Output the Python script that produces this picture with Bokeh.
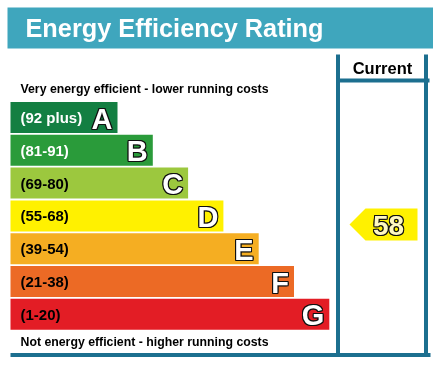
from bokeh.plotting import figure
from bokeh.models import Range1d, ColumnDataSource
from bokeh.core.properties import value
from bokeh.embed import file_html
from bokeh.resources import INLINE

# ---- data ----
bands = ["A", "B", "C", "D", "E", "F", "G"]
ranges = ["(92 plus)", "(81-91)", "(69-80)", "(55-68)", "(39-54)", "(21-38)", "(1-20)"]
lower = [92, 81, 69, 55, 39, 21, 1]
band_colors = ["#137f42", "#2a9b3a", "#9cc83e", "#fff100", "#f5ae22", "#ec6a25", "#e31d25"]
label_colors = ["white", "white", "black", "black", "black", "black", "black"]
current = 58
title = "Energy Efficiency Rating"
top_note = "Very energy efficient - lower running costs"
bottom_note = "Not energy efficient - higher running costs"
column_title = "Current"

# ---- layout ----
W, H = 433, 365
FONT = value("Liberation Sans")
BANNER = "#3fa6bd"
LINE = "#1c6f8f"
bar_left = 10
top0 = 101.5
step = 32.8
bar_h = 31
w0 = 107
wstep = 35.3

p = figure(width=W, height=H, x_range=Range1d(0, W), y_range=Range1d(H, 0),
           x_axis_type=None, y_axis_type=None, toolbar_location=None,
           output_backend="svg", min_border=0, outline_line_color=None,
           background_fill_color="white", border_fill_color="white")
p.grid.visible = False
p.styles = {"position": "fixed", "left": "0px", "top": "0px"}

# banner
p.quad(left=7, right=W, top=7, bottom=48, fill_color=BANNER, line_color=None)
p.text(x=25, y=27.5, text=[title], text_font=FONT, text_font_style="bold",
       text_font_size="25.3px", text_color="white", text_baseline="middle")

# bars
n = len(bands)
tops = [top0 + step * i for i in range(n)]
bots = [t + bar_h for t in tops]
rights = [bar_left + w0 + wstep * i for i in range(n)]
mids = [t + bar_h / 2 for t in tops]
src = ColumnDataSource(dict(band=bands, rng=ranges, color=band_colors, lc=label_colors,
                            top=tops, bottom=bots, right=rights, mid=mids,
                            lx=[bar_left + 10] * n, bx=[r - 5 for r in rights]))
p.quad(left=bar_left, right="right", top="top", bottom="bottom", fill_color="color",
       line_color=None, source=src)
p.text(x="lx", y="mid", text="rng", text_color="lc", text_font=FONT,
       text_font_style="bold", text_font_size="15px", text_baseline="middle", source=src)

offs = [(-1, -1), (-1, 0), (-1, 1), (0, -1), (0, 1), (1, -1), (1, 0), (1, 1)]
for dx, dy in offs:
    p.text(x="bx", y="mid", text="band", text_color="#111111", text_font=FONT,
           text_font_style="bold", text_font_size="29px", text_baseline="middle",
           text_align="right", x_offset=dx, y_offset=dy + 1, source=src)
p.text(x="bx", y="mid", text="band", text_color="white", text_font=FONT,
       text_font_style="bold", text_font_size="29px", text_baseline="middle",
       text_align="right", y_offset=1, source=src)

# notes
p.text(x=20, y=88, text=[top_note], text_font=FONT, text_font_style="bold",
       text_font_size="12.3px", text_color="black", text_baseline="middle")
p.text(x=20, y=341, text=[bottom_note], text_font=FONT, text_font_style="bold",
       text_font_size="12.3px", text_color="black", text_baseline="middle")

# column frame
p.quad(left=335.5, right=339.5, top=54, bottom=356, fill_color=LINE, line_color=None)
p.quad(left=423.5, right=427.5, top=54, bottom=356, fill_color=LINE, line_color=None)
p.quad(left=335.5, right=429, top=78, bottom=82, fill_color=LINE, line_color=None)
p.quad(left=10, right=430, top=352.5, bottom=356.5, fill_color=LINE, line_color=None)
p.text(x=382, y=67, text=[column_title], text_font=FONT, text_font_style="bold",
       text_font_size="16.5px", text_color="black", text_baseline="middle", text_align="center")

# current arrow
idx = next(i for i in range(n) if current >= lower[i])
cy = mids[idx] + 8.5
ah = 16
p.patch(x=[349, 365, 417, 417, 365], y=[cy, cy - ah, cy - ah, cy + ah, cy + ah],
        fill_color=band_colors[idx], line_color=None)
for dx, dy in offs:
    p.text(x=388, y=cy, text=[str(current)], text_color="#111111", text_font=FONT,
           text_font_style="bold", text_font_size="28px", text_baseline="middle",
           text_align="center", x_offset=dx, y_offset=dy + 1)
p.text(x=388, y=cy, text=[str(current)], text_color="#fff8c0", text_font=FONT,
       text_font_style="bold", text_font_size="28px", text_baseline="middle",
       text_align="center", y_offset=1)

open("out.html", "w").write(file_html(p, INLINE))
